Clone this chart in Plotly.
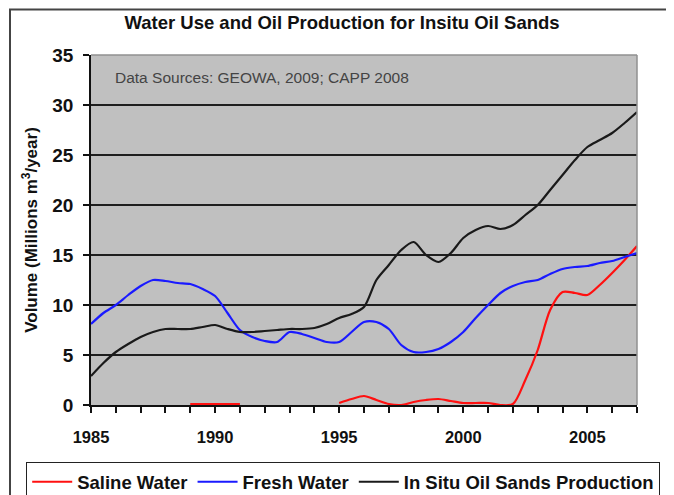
import plotly.graph_objects as go

years = [1985 + 0.5 * i for i in range(45)]  # 1985 .. 2007 in half-years

fresh_water = [8.1, 9.2, 10.0, 11.0, 11.9, 12.5, 12.4, 12.2, 12.1, 11.6, 10.9, 9.2,
               7.5, 6.8, 6.4, 6.3, 7.3, 7.1, 6.7, 6.3, 6.3, 7.3, 8.3, 8.3,
               7.6, 6.0, 5.3, 5.3, 5.6, 6.3, 7.3, 8.7, 10.0, 11.2, 11.9, 12.3,
               12.5, 13.1, 13.6, 13.8, 13.9, 14.2, 14.4, 14.8, 15.2]

oil_sands = [2.9, 4.2, 5.3, 6.1, 6.8, 7.3, 7.6, 7.6, 7.6, 7.8, 8.0, 7.6,
             7.3, 7.3, 7.4, 7.5, 7.6, 7.6, 7.7, 8.1, 8.7, 9.1, 9.8, 12.5,
             14.0, 15.5, 16.3, 15.0, 14.3, 15.2, 16.7, 17.5, 17.9, 17.6, 18.0, 19.0,
             20.0, 21.5, 23.0, 24.5, 25.8, 26.5, 27.2, 28.2, 29.3]

saline_water = [None, None, None, None, None, None, None, None, 0.1, 0.1, 0.1, 0.1,
                0.1, None, None, None, None, None, None, None, 0.2, 0.6, 0.9, 0.5,
                0.1, 0.0, 0.3, 0.5, 0.6, 0.4, 0.2, 0.2, 0.2, 0.0, 0.1, 2.5,
                5.5, 9.5, 11.3, 11.2, 11.0, 12.0, 13.2, 14.5, 15.9]

y_ticks = [0, 5, 10, 15, 20, 25, 30, 35]
x_ticks = [1985, 1990, 1995, 2000, 2005]

FONT = "Liberation Sans, Arial, sans-serif"
OFF = 8  # page body margin

fig = go.Figure()
fig.add_trace(go.Scatter(x=years, y=saline_water, mode="lines", name="<b>Saline Water</b>",
                         line=dict(color="#ff1010", width=2.2, shape="spline", smoothing=0.8),
                         connectgaps=False))
fig.add_trace(go.Scatter(x=years, y=fresh_water, mode="lines", name="<b>Fresh Water</b>",
                         line=dict(color="#1a1aff", width=2.2, shape="spline", smoothing=0.8)))
fig.add_trace(go.Scatter(x=years, y=oil_sands, mode="lines", name="<b>In Situ Oil Sands Production</b>",
                         line=dict(color="#1a1a1a", width=2.2, shape="spline", smoothing=0.8)))

fig.update_layout(
    width=674 - OFF, height=495 - OFF,
    margin=dict(l=91 - OFF, r=37, t=55 - OFF, b=90, autoexpand=False),
    paper_bgcolor="white",
    plot_bgcolor="#c0c0c0",
    font=dict(family=FONT, color="#111", size=16),
    title=dict(text="<b>Water Use and Oil Production for Insitu Oil Sands</b>",
               x=(342 - OFF) / (674 - OFF), xanchor="center", xref="container",
               y=1 - (23 - OFF) / (495 - OFF), yanchor="middle",
               font=dict(size=18.5, family=FONT, color="#111")),
    showlegend=True,
    legend=dict(orientation="h", x=(26 - 91) / 546, xanchor="left", y=(405 - 462) / 350, yanchor="top",
                bgcolor="white", bordercolor="#222", borderwidth=1.2,
                font=dict(size=18.5, family=FONT, color="#111"),
                itemwidth=40, traceorder="normal", tracegroupgap=0),
    xaxis=dict(range=[1985, 2007], tickvals=x_ticks, ticktext=[f"<b>{v}</b>" for v in x_ticks],
               ticks="outside", ticklen=6, ticklabelstandoff=10,
               tickwidth=1.5, tickcolor="#111", showgrid=False, zeroline=False,
               showline=True, linecolor="#111", linewidth=1.5,
               tickfont=dict(size=16.5, family=FONT, color="#111"),
               minor=dict(dtick=1, tick0=1985, ticks="outside", ticklen=6, tickwidth=1.5,
                          tickcolor="#111", showgrid=False),
               fixedrange=True),
    yaxis=dict(range=[0, 35], tickvals=y_ticks, ticktext=[f"<b>{v}</b>" for v in y_ticks],
               ticks="outside", ticklen=6, ticklabelstandoff=6,
               tickwidth=1.5, tickcolor="#111", showgrid=True, gridcolor="#1e1e1e",
               gridwidth=1.5, zeroline=False, showline=True, linecolor="#111", linewidth=1.5,
               tickfont=dict(size=19, family=FONT, color="#111"),
               title=dict(text="<b>Volume (Millions m<sup>3</sup>/year)</b>",
                          font=dict(size=17, family=FONT, color="#111"), standoff=10),
               fixedrange=True),
)

# plot frame (gray top/right) and the outer chart border
fig.add_shape(type="line", xref="paper", yref="paper", x0=0, x1=1, y0=1, y1=1,
              line=dict(color="#909090", width=1.5))
fig.add_shape(type="line", xref="paper", yref="paper", x0=1, x1=1, y0=0, y1=1,
              line=dict(color="#909090", width=1.5))
fig.add_shape(type="rect", xref="paper", yref="paper",
              x0=(10 - 91) / 546, x1=(690 - 91) / 546, y0=(405 - 510) / 350, y1=(405 - 9.5) / 350,
              line=dict(color="#444", width=2))

fig.add_annotation(text="Data Sources: GEOWA, 2009; CAPP 2008", xref="paper", yref="paper",
                   x=(113 - 91) / 546, y=(405 - 77) / 350, xanchor="left", yanchor="middle",
                   showarrow=False,
                   font=dict(size=15.5, family=FONT, color="#444"))

fig.write_html("out.html")
